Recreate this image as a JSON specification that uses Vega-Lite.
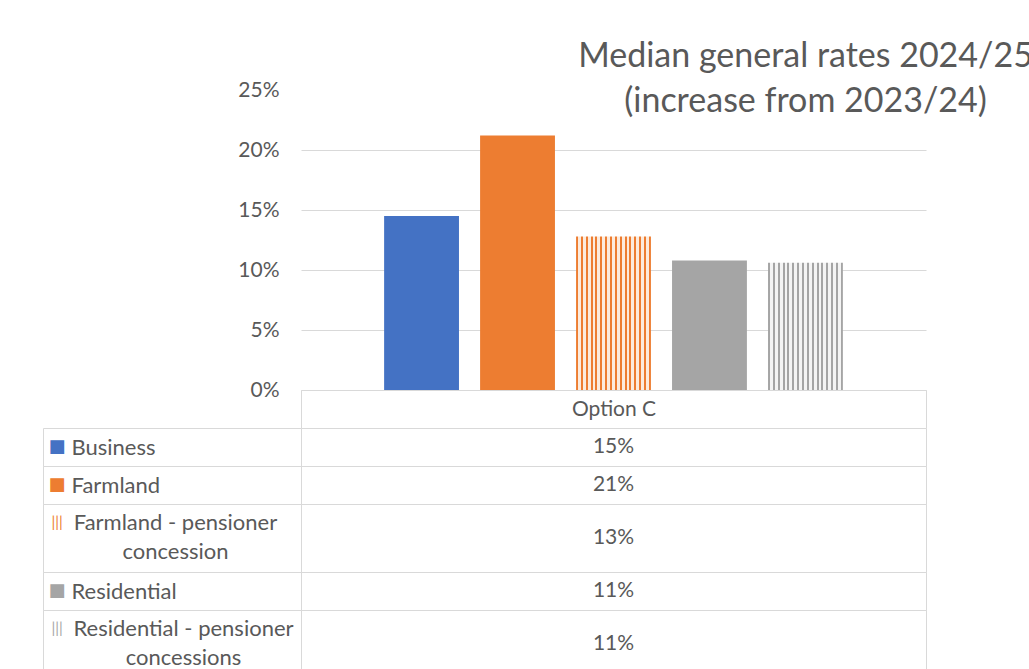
{
  "$schema": "https://vega.github.io/schema/vega-lite/v6.json",
  "background": "white",
  "padding": {"left": 42, "top": 40, "right": 0, "bottom": 0},
  "autosize": {"type": "pad"},
  "datasets": {
    "rates": [
      {"option": "Option C", "series": "Business", "increase": 0.1451},
      {"option": "Option C", "series": "Farmland", "increase": 0.212},
      {"option": "Option C", "series": "Farmland - pensioner concession", "increase": 0.128},
      {"option": "Option C", "series": "Residential", "increase": 0.108},
      {"option": "Option C", "series": "Residential - pensioner concessions", "increase": 0.106}
    ]
  },
  "bounds": "flush",
  "spacing": 38,
  "vconcat": [
    {
      "width": 625,
      "height": 300,
      "view": {"stroke": null},
      "data": {"name": "rates"},
      "title": {
        "text": ["Median general rates 2024/25", "(increase from 2023/24)"],
        "anchor": "middle",
        "frame": "group",
        "dx": 192,
        "offset": -40,
        "fontSize": 34,
        "lineHeight": 45,
        "fontWeight": "normal",
        "color": "#595959"
      },
      "mark": {"type": "bar"},
      "encoding": {
        "x": {
          "field": "option", "type": "nominal", "title": null,
          "scale": {"paddingInner": 0, "paddingOuter": 0},
          "axis": {
            "labelAngle": 0, "labelFontSize": 21, "labelColor": "#595959",
            "labelPadding": -30, "ticks": true, "tickBand": "extent", "tickSize": 38,
            "tickColor": "#d9d9d9", "domain": true, "domainColor": "#d9d9d9", "grid": false
          }
        },
        "xOffset": {
          "field": "series", "type": "nominal", "sort": null,
          "scale": {"paddingInner": 0.22, "paddingOuter": 0.866}
        },
        "y": {
          "field": "increase", "type": "quantitative", "title": null,
          "scale": {"domain": [0, 0.25], "nice": false},
          "axis": {
            "format": ".0%", "values": [0, 0.05, 0.1, 0.15, 0.2, 0.25],
            "labelFontSize": 21, "labelColor": "#595959", "labelPadding": 22,
            "ticks": false, "domain": false, "gridColor": "#d9d9d9",
            "gridOpacity": {"condition": {"test": "datum.value >= 0.25", "value": 0}, "value": 1}
          }
        },
        "color": {
          "field": "series", "type": "nominal", "legend": null,
          "scale": {
            "domain": ["Business", "Farmland", "Farmland - pensioner concession", "Residential", "Residential - pensioner concessions"],
            "range": ["#4472C4", "#ED7D31", "#ED7D31", "#A5A5A5", "#A5A5A5"]
          },
          "condition": [
            {
              "test": "datum.series === 'Farmland - pensioner concession'",
              "value": {
                "gradient": "linear", "x1": 0, "y1": 0, "x2": 1, "y2": 0,
                "stops": [
                  {"offset": 0, "color": "#ED7D31"}, {"offset": 0.027, "color": "#ED7D31"}, {"offset": 0.027, "color": "#FCEBDD"}, {"offset": 0.0648, "color": "#FCEBDD"},
                  {"offset": 0.0648, "color": "#ED7D31"}, {"offset": 0.0918, "color": "#ED7D31"}, {"offset": 0.0918, "color": "#FCEBDD"}, {"offset": 0.1296, "color": "#FCEBDD"},
                  {"offset": 0.1296, "color": "#ED7D31"}, {"offset": 0.1566, "color": "#ED7D31"}, {"offset": 0.1566, "color": "#FCEBDD"}, {"offset": 0.1944, "color": "#FCEBDD"},
                  {"offset": 0.1944, "color": "#ED7D31"}, {"offset": 0.2214, "color": "#ED7D31"}, {"offset": 0.2214, "color": "#FCEBDD"}, {"offset": 0.2592, "color": "#FCEBDD"},
                  {"offset": 0.2592, "color": "#ED7D31"}, {"offset": 0.2862, "color": "#ED7D31"}, {"offset": 0.2862, "color": "#FCEBDD"}, {"offset": 0.324, "color": "#FCEBDD"},
                  {"offset": 0.324, "color": "#ED7D31"}, {"offset": 0.351, "color": "#ED7D31"}, {"offset": 0.351, "color": "#FCEBDD"}, {"offset": 0.3888, "color": "#FCEBDD"},
                  {"offset": 0.3888, "color": "#ED7D31"}, {"offset": 0.4158, "color": "#ED7D31"}, {"offset": 0.4158, "color": "#FCEBDD"}, {"offset": 0.4536, "color": "#FCEBDD"},
                  {"offset": 0.4536, "color": "#ED7D31"}, {"offset": 0.4806, "color": "#ED7D31"}, {"offset": 0.4806, "color": "#FCEBDD"}, {"offset": 0.5184, "color": "#FCEBDD"},
                  {"offset": 0.5184, "color": "#ED7D31"}, {"offset": 0.5454, "color": "#ED7D31"}, {"offset": 0.5454, "color": "#FCEBDD"}, {"offset": 0.5832, "color": "#FCEBDD"},
                  {"offset": 0.5832, "color": "#ED7D31"}, {"offset": 0.6102, "color": "#ED7D31"}, {"offset": 0.6102, "color": "#FCEBDD"}, {"offset": 0.648, "color": "#FCEBDD"},
                  {"offset": 0.648, "color": "#ED7D31"}, {"offset": 0.675, "color": "#ED7D31"}, {"offset": 0.675, "color": "#FCEBDD"}, {"offset": 0.7128, "color": "#FCEBDD"},
                  {"offset": 0.7128, "color": "#ED7D31"}, {"offset": 0.7398, "color": "#ED7D31"}, {"offset": 0.7398, "color": "#FCEBDD"}, {"offset": 0.7776, "color": "#FCEBDD"},
                  {"offset": 0.7776, "color": "#ED7D31"}, {"offset": 0.8046, "color": "#ED7D31"}, {"offset": 0.8046, "color": "#FCEBDD"}, {"offset": 0.8424, "color": "#FCEBDD"},
                  {"offset": 0.8424, "color": "#ED7D31"}, {"offset": 0.8694, "color": "#ED7D31"}, {"offset": 0.8694, "color": "#FCEBDD"}, {"offset": 0.9072, "color": "#FCEBDD"},
                  {"offset": 0.9072, "color": "#ED7D31"}, {"offset": 0.9342, "color": "#ED7D31"}, {"offset": 0.9342, "color": "#FCEBDD"}, {"offset": 0.972, "color": "#FCEBDD"},
                  {"offset": 0.972, "color": "#ED7D31"}, {"offset": 1, "color": "#ED7D31"}
                ]
              }
            },
            {
              "test": "datum.series === 'Residential - pensioner concessions'",
              "value": {
                "gradient": "linear", "x1": 0, "y1": 0, "x2": 1, "y2": 0,
                "stops": [
                  {"offset": 0, "color": "#A5A5A5"}, {"offset": 0.027, "color": "#A5A5A5"}, {"offset": 0.027, "color": "#F4F4F4"}, {"offset": 0.0648, "color": "#F4F4F4"},
                  {"offset": 0.0648, "color": "#A5A5A5"}, {"offset": 0.0918, "color": "#A5A5A5"}, {"offset": 0.0918, "color": "#F4F4F4"}, {"offset": 0.1296, "color": "#F4F4F4"},
                  {"offset": 0.1296, "color": "#A5A5A5"}, {"offset": 0.1566, "color": "#A5A5A5"}, {"offset": 0.1566, "color": "#F4F4F4"}, {"offset": 0.1944, "color": "#F4F4F4"},
                  {"offset": 0.1944, "color": "#A5A5A5"}, {"offset": 0.2214, "color": "#A5A5A5"}, {"offset": 0.2214, "color": "#F4F4F4"}, {"offset": 0.2592, "color": "#F4F4F4"},
                  {"offset": 0.2592, "color": "#A5A5A5"}, {"offset": 0.2862, "color": "#A5A5A5"}, {"offset": 0.2862, "color": "#F4F4F4"}, {"offset": 0.324, "color": "#F4F4F4"},
                  {"offset": 0.324, "color": "#A5A5A5"}, {"offset": 0.351, "color": "#A5A5A5"}, {"offset": 0.351, "color": "#F4F4F4"}, {"offset": 0.3888, "color": "#F4F4F4"},
                  {"offset": 0.3888, "color": "#A5A5A5"}, {"offset": 0.4158, "color": "#A5A5A5"}, {"offset": 0.4158, "color": "#F4F4F4"}, {"offset": 0.4536, "color": "#F4F4F4"},
                  {"offset": 0.4536, "color": "#A5A5A5"}, {"offset": 0.4806, "color": "#A5A5A5"}, {"offset": 0.4806, "color": "#F4F4F4"}, {"offset": 0.5184, "color": "#F4F4F4"},
                  {"offset": 0.5184, "color": "#A5A5A5"}, {"offset": 0.5454, "color": "#A5A5A5"}, {"offset": 0.5454, "color": "#F4F4F4"}, {"offset": 0.5832, "color": "#F4F4F4"},
                  {"offset": 0.5832, "color": "#A5A5A5"}, {"offset": 0.6102, "color": "#A5A5A5"}, {"offset": 0.6102, "color": "#F4F4F4"}, {"offset": 0.648, "color": "#F4F4F4"},
                  {"offset": 0.648, "color": "#A5A5A5"}, {"offset": 0.675, "color": "#A5A5A5"}, {"offset": 0.675, "color": "#F4F4F4"}, {"offset": 0.7128, "color": "#F4F4F4"},
                  {"offset": 0.7128, "color": "#A5A5A5"}, {"offset": 0.7398, "color": "#A5A5A5"}, {"offset": 0.7398, "color": "#F4F4F4"}, {"offset": 0.7776, "color": "#F4F4F4"},
                  {"offset": 0.7776, "color": "#A5A5A5"}, {"offset": 0.8046, "color": "#A5A5A5"}, {"offset": 0.8046, "color": "#F4F4F4"}, {"offset": 0.8424, "color": "#F4F4F4"},
                  {"offset": 0.8424, "color": "#A5A5A5"}, {"offset": 0.8694, "color": "#A5A5A5"}, {"offset": 0.8694, "color": "#F4F4F4"}, {"offset": 0.9072, "color": "#F4F4F4"},
                  {"offset": 0.9072, "color": "#A5A5A5"}, {"offset": 0.9342, "color": "#A5A5A5"}, {"offset": 0.9342, "color": "#F4F4F4"}, {"offset": 0.972, "color": "#F4F4F4"},
                  {"offset": 0.972, "color": "#A5A5A5"}, {"offset": 1, "color": "#A5A5A5"}
                ]
              }
            }
          ]
        }
      }
    },
    {
      "bounds": "flush",
      "spacing": 0,
      "vconcat": [
        {
          "width": 625, "height": 38,
          "view": {"stroke": "#d9d9d9"},
          "data": {"name": "rates"},
          "transform": [{"filter": "datum.series === 'Business'"}],
          "resolve": {"axis": {"y": "independent"}},
          "layer": [
            {
              "mark": {"type": "rect", "opacity": 0},
              "encoding": {
                "y": {"field": "series", "type": "nominal", "title": null,
                  "scale": {"paddingInner": 0, "paddingOuter": 0},
                  "axis": {"orient": "left", "offset": 258, "domain": true, "ticks": false, "grid": false,
                    "labelAlign": "left", "labelPadding": -5, "labelFont": "DejaVu Sans", "labelFontSize": 18,
                    "labelColor": "#4472C4", "labelExpr": "'■'"}}
              }
            },
            {
              "mark": {"type": "text", "fontSize": 21, "color": "#595959"},
              "encoding": {
                "y": {"field": "series", "type": "nominal", "title": null,
                  "scale": {"paddingInner": 0, "paddingOuter": 0},
                  "axis": {"orient": "left", "tickBand": "extent", "tickSize": 258, "grid": false, "domain": false,
                    "labelAlign": "left", "labelPadding": -28, "labelFontSize": 22, "labelColor": "#595959"}},
                "text": {"field": "increase", "type": "quantitative", "format": ".0%"}
              }
            }
          ]
        },
        {
          "width": 625, "height": 38,
          "view": {"stroke": "#d9d9d9"},
          "data": {"name": "rates"},
          "transform": [{"filter": "datum.series === 'Farmland'"}],
          "resolve": {"axis": {"y": "independent"}},
          "layer": [
            {
              "mark": {"type": "rect", "opacity": 0},
              "encoding": {
                "y": {"field": "series", "type": "nominal", "title": null,
                  "scale": {"paddingInner": 0, "paddingOuter": 0},
                  "axis": {"orient": "left", "offset": 258, "domain": true, "ticks": false, "grid": false,
                    "labelAlign": "left", "labelPadding": -5, "labelFont": "DejaVu Sans", "labelFontSize": 18,
                    "labelColor": "#ED7D31", "labelExpr": "'■'"}}
              }
            },
            {
              "mark": {"type": "text", "fontSize": 21, "color": "#595959"},
              "encoding": {
                "y": {"field": "series", "type": "nominal", "title": null,
                  "scale": {"paddingInner": 0, "paddingOuter": 0},
                  "axis": {"orient": "left", "tickBand": "extent", "tickSize": 258, "grid": false, "domain": false,
                    "labelAlign": "left", "labelPadding": -28, "labelFontSize": 22, "labelColor": "#595959"}},
                "text": {"field": "increase", "type": "quantitative", "format": ".0%"}
              }
            }
          ]
        },
        {
          "width": 625, "height": 68,
          "view": {"stroke": "#d9d9d9"},
          "data": {"name": "rates"},
          "transform": [{"filter": "datum.series === 'Farmland - pensioner concession'"}],
          "resolve": {"axis": {"y": "independent"}},
          "layer": [
            {
              "mark": {"type": "rect", "opacity": 0},
              "encoding": {
                "y": {"field": "series", "type": "nominal", "title": null,
                  "scale": {"paddingInner": 0, "paddingOuter": 0},
                  "axis": {"orient": "left", "offset": 258, "domain": true, "ticks": false, "grid": false,
                    "labelAlign": "left", "labelPadding": -8, "labelFontSize": 15, "labelLineHeight": 29,
                    "labelOffset": -16, "labelColor": "#ED7D31", "labelExpr": "['|||', ' ']"}}
              }
            },
            {
              "mark": {"type": "text", "fontSize": 21, "color": "#595959"},
              "encoding": {
                "y": {"field": "series", "type": "nominal", "title": null,
                  "scale": {"paddingInner": 0, "paddingOuter": 0},
                  "axis": {"orient": "left", "tickBand": "extent", "tickSize": 258, "grid": false, "domain": false,
                    "labelAlign": "center", "labelPadding": -132, "labelFontSize": 22, "labelLineHeight": 29,
                    "labelOffset": -16, "labelColor": "#595959",
                    "labelExpr": "split(replace(datum.label, ' pensioner ', ' pensioner|'), '|')"}},
                "text": {"field": "increase", "type": "quantitative", "format": ".0%"}
              }
            }
          ]
        },
        {
          "width": 625, "height": 38,
          "view": {"stroke": "#d9d9d9"},
          "data": {"name": "rates"},
          "transform": [{"filter": "datum.series === 'Residential'"}],
          "resolve": {"axis": {"y": "independent"}},
          "layer": [
            {
              "mark": {"type": "rect", "opacity": 0},
              "encoding": {
                "y": {"field": "series", "type": "nominal", "title": null,
                  "scale": {"paddingInner": 0, "paddingOuter": 0},
                  "axis": {"orient": "left", "offset": 258, "domain": true, "ticks": false, "grid": false,
                    "labelAlign": "left", "labelPadding": -5, "labelFont": "DejaVu Sans", "labelFontSize": 18,
                    "labelColor": "#A5A5A5", "labelExpr": "'■'"}}
              }
            },
            {
              "mark": {"type": "text", "fontSize": 21, "color": "#595959"},
              "encoding": {
                "y": {"field": "series", "type": "nominal", "title": null,
                  "scale": {"paddingInner": 0, "paddingOuter": 0},
                  "axis": {"orient": "left", "tickBand": "extent", "tickSize": 258, "grid": false, "domain": false,
                    "labelAlign": "left", "labelPadding": -28, "labelFontSize": 22, "labelColor": "#595959"}},
                "text": {"field": "increase", "type": "quantitative", "format": ".0%"}
              }
            }
          ]
        },
        {
          "width": 625, "height": 68,
          "view": {"stroke": "#d9d9d9"},
          "data": {"name": "rates"},
          "transform": [{"filter": "datum.series === 'Residential - pensioner concessions'"}],
          "resolve": {"axis": {"y": "independent"}},
          "layer": [
            {
              "mark": {"type": "rect", "opacity": 0},
              "encoding": {
                "y": {"field": "series", "type": "nominal", "title": null,
                  "scale": {"paddingInner": 0, "paddingOuter": 0},
                  "axis": {"orient": "left", "offset": 258, "domain": true, "ticks": false, "grid": false,
                    "labelAlign": "left", "labelPadding": -8, "labelFontSize": 15, "labelLineHeight": 29,
                    "labelOffset": -16, "labelColor": "#A5A5A5", "labelExpr": "['|||', ' ']"}}
              }
            },
            {
              "mark": {"type": "text", "fontSize": 21, "color": "#595959"},
              "encoding": {
                "y": {"field": "series", "type": "nominal", "title": null,
                  "scale": {"paddingInner": 0, "paddingOuter": 0},
                  "axis": {"orient": "left", "tickBand": "extent", "tickSize": 258, "grid": false, "domain": false,
                    "labelAlign": "center", "labelPadding": -140, "labelFontSize": 22, "labelLineHeight": 29,
                    "labelOffset": -16, "labelColor": "#595959",
                    "labelExpr": "split(replace(datum.label, ' pensioner ', ' pensioner|'), '|')"}},
                "text": {"field": "increase", "type": "quantitative", "format": ".0%"}
              }
            }
          ]
        }
      ]
    }
  ],
  "config": {
    "font": "Lato",
    "axis": {"labelFont": "Lato", "labelOverlap": false, "labelLimit": 0, "domainColor": "#d9d9d9", "tickColor": "#d9d9d9"},
    "title": {"font": "Lato"},
    "text": {"font": "Lato"}
  }
}
